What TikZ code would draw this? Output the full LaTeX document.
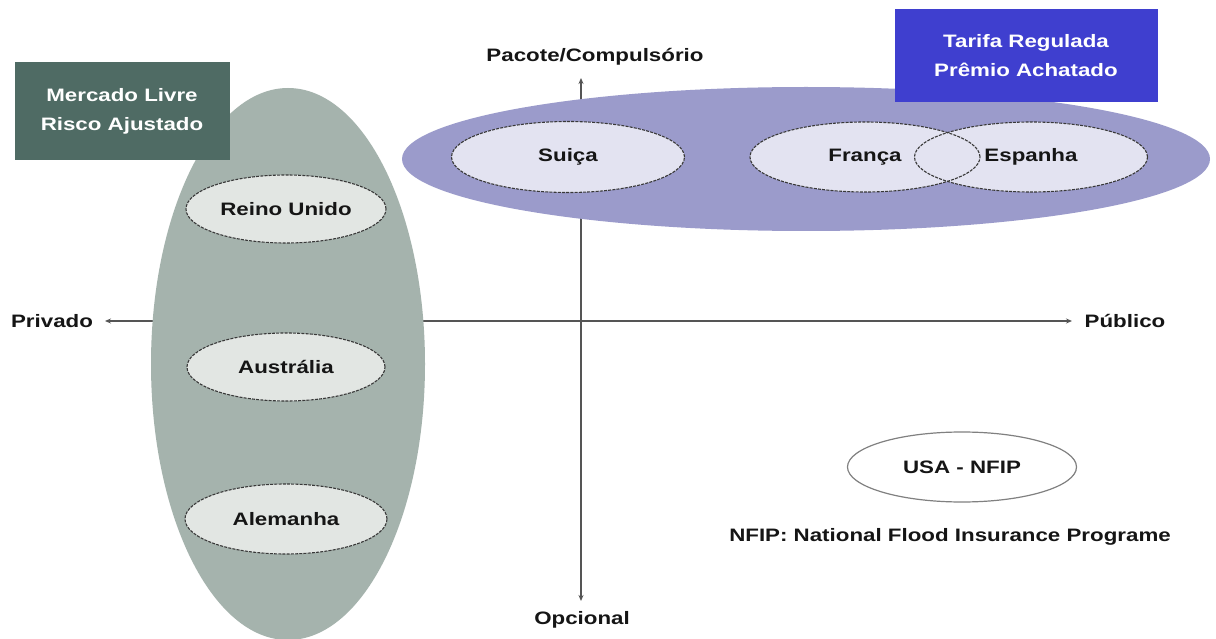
\documentclass[tikz,border=0pt]{standalone}
\usepackage{fontspec}
\setmainfont{Liberation Sans}[FakeStretch=1.24]
\usetikzlibrary{arrows.meta,shapes.geometric}
\definecolor{grayell}{HTML}{A5B3AD}
\definecolor{darkbox}{HTML}{4F6B64}
\definecolor{lavell}{HTML}{9B9BCB}
\definecolor{bluebox}{HTML}{3F3FCF}
\definecolor{grayin}{HTML}{E2E6E3}
\definecolor{lavin}{HTML}{E3E3F1}
\definecolor{axisc}{HTML}{555555}
\definecolor{txt}{HTML}{151515}
\tikzset{
  axisline/.style={draw=axisc, line width=1.3pt, {Stealth[length=6pt,width=5pt]}-{Stealth[length=6pt,width=5pt]}},
  lbl/.style={text=txt, inner sep=0pt},
  bigell/.style={ellipse, inner sep=0pt, draw=none},
  country/.style={ellipse, inner sep=0pt, draw=darkgray!90!black, line width=1.1pt, dash pattern=on 3pt off 1.2pt, text=txt},
  catbox/.style={rectangle, inner sep=0pt, text=white, align=center, font=\fontsize{18}{29}\selectfont\bfseries},
}
\begin{document}
\begin{tikzpicture}[x=1pt,y=-1pt, font=\fontsize{18}{21}\selectfont\bfseries]
\useasboundingbox[fill=white] (0,0) rectangle (1216,639);
% axis labels
\node[lbl] (priv) at (52,321) {Privado};
\node[lbl] (pub) at (1125,321) {Público};
\node[lbl] (pac) at (595,57) {Pacote/Compulsório};
\node[lbl] (opc) at (582,620) {Opcional};
\coordinate (hl) at (105,321);
\coordinate (hr) at (1072,321);
\coordinate (vt) at (581,78);
\coordinate (vb) at (581,601);
\draw[axisline] (hl) -- (hr);
\draw[axisline] (vt) -- (vb);
% big groups
\node[bigell, fill=grayell, minimum width=274, minimum height=552] (gray) at (288,364) {};
\node[bigell, fill=lavell, minimum width=808, minimum height=144] (lav) at (806,159) {};
% category boxes
\node[catbox, fill=darkbox, minimum width=215, minimum height=98] (free) at (122,111) {Mercado Livre\\Risco Ajustado};
\node[catbox, fill=bluebox, minimum width=263, minimum height=93] (reg) at (1026,56) {Tarifa Regulada\\Prêmio Achatado};
% countries
\node[country, fill=grayin, minimum width=200, minimum height=68] (uk) at (286,209) {Reino Unido};
\node[country, fill=grayin, minimum width=198, minimum height=68] (au) at (286,367) {Austrália};
\node[country, fill=grayin, minimum width=202, minimum height=70] (de) at (286,519) {Alemanha};
\node[country, fill=lavin, minimum width=233, minimum height=71] (ch) at (568,157) {Suiça};
\node[bigell, fill=lavin, minimum width=230, minimum height=70] (frf) at (865,157) {};
\node[bigell, fill=lavin, minimum width=233, minimum height=70] (esf) at (1031,157) {};
\node[country, minimum width=230, minimum height=70] (fr) at (865,157) {};
\node[country, minimum width=233, minimum height=70] (es) at (1031,157) {};
\node[lbl] (frt) at (fr) {França};
\node[lbl] (est) at (es) {Espanha};
\node[ellipse, inner sep=0pt, draw=gray, line width=1.2pt, fill=white, text=txt, minimum width=229, minimum height=70] (usa) at (962,467) {USA - NFIP};
\node[lbl] (note) at (950,537) {NFIP: National Flood Insurance Programe};
\end{tikzpicture}
\end{document}
